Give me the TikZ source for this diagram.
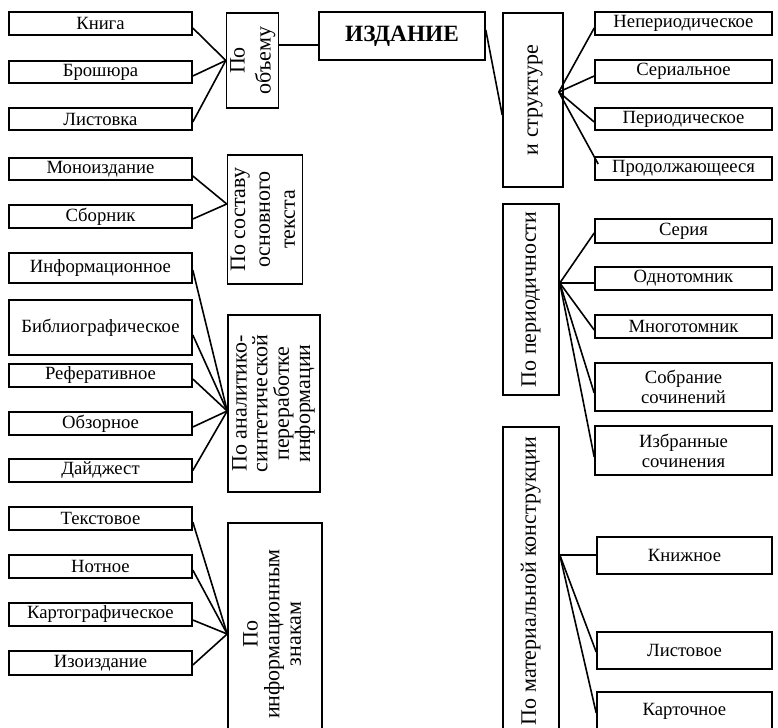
\documentclass[tikz,border=0pt]{standalone}
\usepackage{fontspec}
\setmainfont{Liberation Serif}
\usetikzlibrary{calc}

\tikzset{
  cell/.style={draw, line width=1.2pt, inner sep=0pt, align=center},
  boxsize/.style 2 args={minimum width=#1*0.75pt, minimum height=#2*0.75pt},
  link/.style={line width=1.2pt},
}
\newcommand{\vlab}[2][1]{\rotatebox{90}{\fontsize{16.5}{18}\selectfont\renewcommand{\arraystretch}{#1}\begin{tabular}{@{}c@{}}#2\end{tabular}}}

\begin{document}
\begin{tikzpicture}[x=0.75pt,y=0.75pt,yscale=-1,xscale=1,font=\fontsize{14}{15}\selectfont]
\useasboundingbox (0,0) rectangle (778,728);
\clip (0,0) rectangle (778,728);

% root
\node[cell, boxsize={166}{48}, font=\fontsize{17.5}{19}\selectfont\bfseries] (izdanie) at (402,36) {ИЗДАНИЕ};

% left column
\node[cell, boxsize={183}{23}] (knig) at (100.5,23.5) {Книга};
\node[cell, boxsize={183}{22}] (brosh) at (100.5,72) {Брошюра};
\node[cell, boxsize={183}{22}] (listovka) at (100.5,119) {Листовка};
\node[cell, boxsize={183}{22}] (mono) at (100.5,169) {Моноиздание};
\node[cell, boxsize={183}{23}] (sbornik) at (100.5,216.5) {Сборник};
\node[cell, boxsize={183}{30}] (inform) at (100.5,268) {Информационное};
\node[cell, boxsize={183}{55}] (biblio) at (100.5,327.5) {Библиографическое};
\node[cell, boxsize={183}{23}] (refer) at (100.5,375.5) {Реферативное};
\node[cell, boxsize={183}{23}] (obzor) at (100.5,423.5) {Обзорное};
\node[cell, boxsize={183}{23}] (daidzh) at (100.5,470.5) {Дайджест};
\node[cell, boxsize={183}{23}] (tekst) at (100.5,518.5) {Текстовое};
\node[cell, boxsize={183}{23}] (noty) at (100.5,566.5) {Нотное};
\node[cell, boxsize={183}{23}] (karto) at (100.5,614.5) {Картографическое};
\node[cell, boxsize={183}{24}] (izo) at (100.5,663) {Изоиздание};

% left groups
\node[cell, boxsize={47}{95}] (obem) at (252.5,60.5) {\vlab[1.08]{По\\объему}};
\node[cell, boxsize={74}{129}] (sostav) at (265,219.5) {\vlab[1.04]{По составу\\основного\\текста}};
\node[cell, boxsize={92}{177}] (analit) at (274,403.5) {\vlab[0.8]{По аналитико-\\синтетической\\переработке\\информации}};
\node[cell, boxsize={94}{222}] (znaki) at (275,634) {\vlab[0.9]{По\\информационным\\знакам}};

% right groups
\node[cell, boxsize={60}{174}] (struktura) at (533,100) {\vlab{и структуре}};
\node[cell, boxsize={56}{191}] (period) at (531,299.5) {\vlab{По периодичности}};
\node[cell, boxsize={56}{308}] (material) at (531,581) {\vlab{По материальной конструкции}};

% right column
\node[cell, boxsize={177}{23}] (neper) at (683.5,23.5) {Непериодическое};
\node[cell, boxsize={177}{23}] (serial) at (683.5,71.5) {Сериальное};
\node[cell, boxsize={177}{22}] (periodich) at (683.5,119) {Периодическое};
\node[cell, boxsize={177}{23}] (prodol) at (683.5,168.5) {Продолжающееся};
\node[cell, boxsize={177}{24}] (seriya) at (683.5,231) {Серия};
\node[cell, boxsize={177}{23}] (odnotom) at (683.5,278.5) {Однотомник};
\node[cell, boxsize={177}{23}] (mnogotom) at (683.5,326.5) {Многотомник};
\node[cell, boxsize={177}{48}] (sobranie) at (683.5,387) {Собрание\\сочинений};
\node[cell, boxsize={177}{49}] (izbrannye) at (683.5,450.5) {Избранные\\сочинения};
\node[cell, boxsize={175}{37}] (knizh) at (684.5,555.5) {Книжное};
\node[cell, boxsize={175}{37}] (listovoe) at (684.5,650.5) {Листовое};
\node[cell, boxsize={175}{38}] (kartoch) at (684.5,711) {Карточное};

% hubs
\coordinate (hobem) at ($(obem.east)+(0,-15.5)$);
\coordinate (hsostav) at ($(sostav.west)+(0,-15.5)$);
\coordinate (hanalit) at ($(analit.west)+(0,7.5)$);
\coordinate (hstrukt) at ($(struktura.east)+(-5,-8)$);
\coordinate (hperiod) at ($(period.east)+(0,-16.5)$);
\coordinate (hmater) at ($(material.east)+(0,-26)$);

\draw[link] (hobem) -- (hobem -| izdanie.west);
\draw[link] ($(izdanie.east)+(0,-6)$) -- ($(struktura.west)+(0,15)$);

\draw[link] ($(knig.east)+(0,4.5)$) -- (obem.west);
\draw[link] ($(brosh.east)+(0,4)$) -- (obem.west);
\draw[link] ($(listovka.east)+(0,3)$) -- (obem.west);

\draw[link] ($(mono.east)+(0,7)$) -- (hsostav);
\draw[link] ($(sbornik.east)+(0,2.5)$) -- (hsostav);

\draw[link] ($(inform.east)+(0,2)$) -- (hanalit);
\draw[link] ($(biblio.east)+(0,7.5)$) -- (hanalit);
\draw[link] ($(refer.east)+(0,3.5)$) -- (hanalit);
\draw[link] ($(obzor.east)+(0,3.5)$) -- (hanalit);
\draw[link] (daidzh.east) -- (hanalit);

\draw[link] ($(tekst.east)+(0,3.5)$) -- (znaki.west);
\draw[link] ($(noty.east)+(0,3.5)$) -- (znaki.west);
\draw[link] ($(karto.east)+(0,5.5)$) -- (znaki.west);
\draw[link] ($(izo.east)+(0,2)$) -- (znaki.west);

\draw[link] (hstrukt) -- ($(neper.west)+(0,4.5)$);
\draw[link] (hstrukt) -- ($(serial.west)+(0,4.5)$);
\draw[link] (hstrukt) -- ($(periodich.west)+(0,3)$);
\draw[link] (hstrukt) -- ($(prodol.west)+(4,-4.5)$);

\draw[link] (hperiod) -- ($(seriya.west)+(0,2)$);
\draw[link] (hperiod) -- ($(odnotom.west)+(0,4.5)$);
\draw[link] (hperiod) -- ($(mnogotom.west)+(0,3.5)$);
\draw[link] (hperiod) -- ($(sobranie.west)+(0,6)$);
\draw[link] (hperiod) -- ($(izbrannye.west)+(0,6.5)$);

\draw[link] (hmater) -- (hmater -| knizh.west);
\draw[link] (hmater) -- ($(listovoe.west)+(0,1.5)$);
\draw[link] (hmater) -- ($(kartoch.west)+(0,2)$);
\end{tikzpicture}
\end{document}
